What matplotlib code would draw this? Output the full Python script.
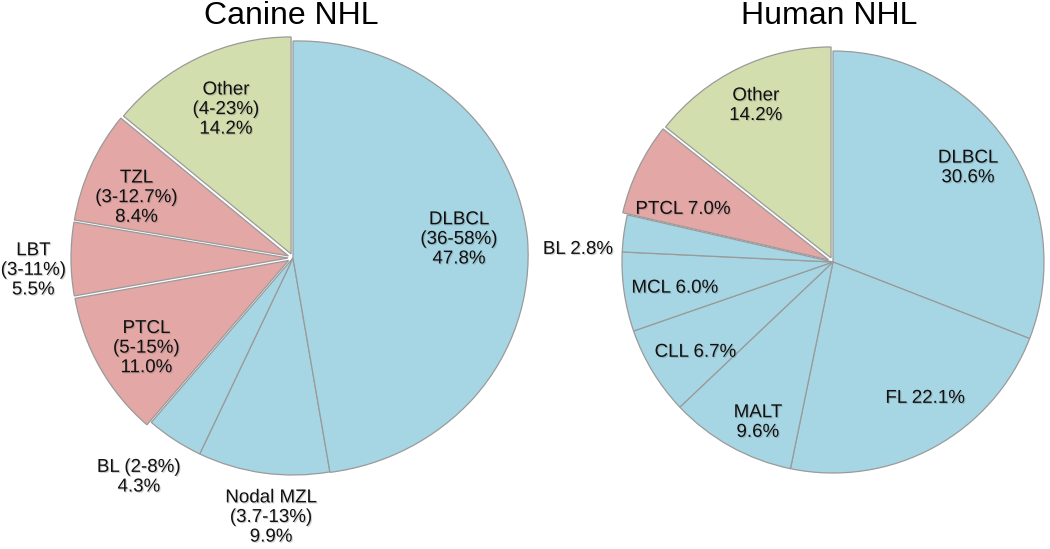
import matplotlib
matplotlib.use("Agg")
import matplotlib.pyplot as plt
from matplotlib import patheffects as pe
from matplotlib.patches import PathPatch
from matplotlib.path import Path
import numpy as np

plt.rcParams['font.family'] = ['Liberation Sans', 'DejaVu Sans']

# ---------------- data ----------------
canine_names = ["DLBCL", "Nodal MZL", "BL", "PTCL", "LBT", "TZL", "Other"]
canine_values = [47.8, 9.9, 4.3, 11.0, 5.5, 8.4, 14.2]
canine_ranges = ["36-58%", "3.7-13%", "2-8%", "5-15%", "3-11%", "3-12.7%", "4-23%"]
canine_groups = ["B", "B", "B", "T", "T", "T", "O"]

human_names = ["DLBCL", "FL", "MALT", "CLL", "MCL", "BL", "PTCL", "Other"]
human_values = [30.6, 22.1, 9.6, 6.7, 6.0, 2.8, 7.0, 14.2]
human_groups = ["B", "B", "B", "B", "B", "B", "T", "O"]

titles = ["Canine NHL", "Human NHL"]

# ---------------- style / layout ----------------
group_colors = {"B": "#A6D6E4", "T": "#E3A7A5", "O": "#D3DEAE"}
group_explode = {"B": 0.0, "T": 5.0, "O": 4.5}   # in pixels (data units)
EDGE = "#9a9a9a"
H = 549

canine_center = (293, H - 258)
canine_radius = 217
human_center = (833, H - 262)
human_radius = 211

# label layout: name/range separator, radial distance (fraction of r), angle tweak (deg)
canine_sep = ["\n", "\n", " ", "\n", "\n", "\n", "\n"]
canine_dist = [0.77, 1.20, 1.235, 0.77, 1.175, 0.75, 0.73]
canine_dang = [1.5, 3.0, -2.0, 2.0, 2.5, 3.5, -1.0]

human_sep = ["\n", " ", "\n", " ", " ", " ", " ", "\n"]
human_dist = [0.78, 0.78, 0.84, 0.78, 0.76, 1.21, 0.73, 0.805]
human_dang = [0.5, 5.5, 4.0, 2.0, 1.2, 5.0, 6.5, 0.5]

shadow = [pe.withSimplePatchShadow(offset=(0.8, -0.8), shadow_rgbFace="#666666", alpha=0.3)]

fig = plt.figure(figsize=(10.5, 5.49), dpi=100)
ax = fig.add_axes([0, 0, 1, 1])


def draw_pie(values, groups, center, radius, labels, dists, dangs):
    colors = [group_colors[g] for g in groups]
    explode = [group_explode[g] for g in groups]
    wedges, _ = ax.pie(values, colors=colors, explode=explode, startangle=90,
                       counterclock=False, radius=radius, center=center,
                       wedgeprops=dict(edgecolor=EDGE, linewidth=0.9))
    for w, lab, d, da in zip(wedges, labels, dists, dangs):
        th = np.deg2rad((w.theta1 + w.theta2) / 2 + da)
        cx, cy = w.center
        ax.text(cx + d * w.r * np.cos(th), cy + d * w.r * np.sin(th), lab,
                ha="center", va="center", multialignment="center",
                fontsize=13.5, color="#111111", path_effects=shadow, zorder=5)
    return wedges


canine_labels = [f"{n}{s}({r})\n{v:.1f}%" for n, s, r, v in
                 zip(canine_names, canine_sep, canine_ranges, canine_values)]
human_labels = [f"{n}{s}{v:.1f}%" for n, s, v in zip(human_names, human_sep, human_values)]

cw = draw_pie(canine_values, canine_groups, canine_center, canine_radius,
              canine_labels, canine_dist, canine_dang)

# the large canine DLBCL slice bulges to the right in the original:
# stretch its outline radially, strongest towards 0 degrees
w0 = cw[0]
p = w0.get_path()
cx, cy = w0.center
v = p.vertices.copy()
ang = np.arctan2(v[:, 1] - cy, v[:, 0] - cx)
f = 1.0 + 0.085 * np.clip(np.cos(ang), 0, None) ** 2
v[:, 0] = cx + (v[:, 0] - cx) * f
v[:, 1] = cy + (v[:, 1] - cy) * f
bulge = PathPatch(Path(v, p.codes), facecolor=w0.get_facecolor(),
                  edgecolor=EDGE, linewidth=0.9, zorder=w0.get_zorder())
ax.add_patch(bulge)
w0.set_visible(False)

draw_pie(human_values, human_groups, human_center, human_radius,
         human_labels, human_dist, human_dang)

ax.text(291, H - 24, titles[0], ha="center", va="baseline", fontsize=23, color="black")
ax.text(829, H - 24, titles[1], ha="center", va="baseline", fontsize=23, color="black")

ax.set_xlim(0, 1050)
ax.set_ylim(0, H)
ax.set_aspect("equal")
ax.axis("off")

fig.savefig("out.png", dpi=100)
